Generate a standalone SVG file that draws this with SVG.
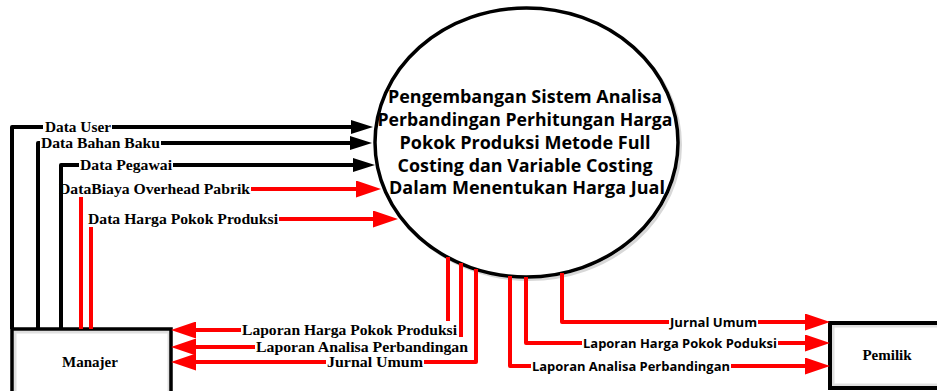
<svg xmlns="http://www.w3.org/2000/svg" width="937" height="391" viewBox="0 0 937 391">
<style>
.bk{fill:none;stroke:#000;stroke-width:4;stroke-linejoin:round}
.rd{fill:none;stroke:#ff0000;stroke-width:4;stroke-linejoin:round}
.lab{font-family:"Liberation Serif","Times New Roman",serif;font-weight:bold;font-size:14px;fill:#000}
.labs{font-family:"Open Sans","Liberation Sans",Arial,sans-serif;font-weight:bold;font-size:13px;fill:#000}
.ptxt{font-family:"Open Sans","Liberation Sans",Arial,sans-serif;font-weight:bold;font-size:17px;fill:#000}
.ent{font-family:"Liberation Serif","Times New Roman",serif;font-weight:bold;font-size:15px;fill:#000}
</style>
<defs>
<marker id="ab" markerUnits="userSpaceOnUse" markerWidth="22" markerHeight="14" refX="0" refY="7" orient="auto"><path d="M0,0 L22,7 L0,14 z" fill="#000"/></marker>
<marker id="ar" markerUnits="userSpaceOnUse" markerWidth="25" markerHeight="17" refX="0" refY="8.5" orient="auto"><path d="M0,0 L25,8.5 L0,17 z" fill="#ff0000"/></marker>
</defs>
<rect width="937" height="391" fill="#fff"/>

<g id="process">
<ellipse cx="529" cy="145" rx="151.5" ry="134.5" fill="none" stroke="#d8d8d8" stroke-width="3"/>
<ellipse cx="526.5" cy="142.5" rx="151.5" ry="134.5" fill="#fff" stroke="#000" stroke-width="3.5"/>
<text class="ptxt" x="525" y="103" text-anchor="middle" textLength="274" lengthAdjust="spacingAndGlyphs">Pengembangan Sistem Analisa</text>
<text class="ptxt" x="525" y="126" text-anchor="middle" textLength="295" lengthAdjust="spacingAndGlyphs">Perbandingan Perhitungan Harga</text>
<text class="ptxt" x="525" y="149" text-anchor="middle" textLength="251" lengthAdjust="spacingAndGlyphs">Pokok Produksi Metode Full</text>
<text class="ptxt" x="525" y="172" text-anchor="middle" textLength="255" lengthAdjust="spacingAndGlyphs">Costing dan Variable Costing</text>
<text class="ptxt" x="527" y="194" text-anchor="middle" textLength="276" lengthAdjust="spacingAndGlyphs">Dalam Menentukan Harga Jual</text>
</g>

<g id="manajer">
<rect x="15" y="332" width="154" height="70" fill="none" stroke="#e0e0e0" stroke-width="3"/>
<rect x="12" y="329" width="159" height="70" fill="none" stroke="#000" stroke-width="3.5"/>
<text class="ent" x="90" y="367" text-anchor="middle">Manajer</text>
</g>

<g id="pemilik">
<rect x="833" y="326" width="110" height="59" fill="none" stroke="#e0e0e0" stroke-width="3"/>
<rect x="830" y="323" width="115" height="65" fill="none" stroke="#000" stroke-width="4"/>
<text class="ent" x="887" y="360" text-anchor="middle">Pemilik</text>
</g>

<g id="connectors">
<g id="c-data-user">
<path class="bk" d="M12,329 V127 H43"/>
<path class="bk" d="M112,127 H351" marker-end="url(#ab)"/>
<text class="lab" x="45" y="132" textLength="66" lengthAdjust="spacingAndGlyphs">Data User</text>
</g>
<g id="c-data-bahan-baku">
<path class="bk" d="M38,329 V143 H40"/>
<path class="bk" d="M161,143 H350" marker-end="url(#ab)"/>
<text class="lab" x="41" y="148" textLength="119" lengthAdjust="spacingAndGlyphs">Data Bahan Baku</text>
</g>
<g id="c-data-pegawai">
<path class="bk" d="M61,329 V165 H79"/>
<path class="bk" d="M173,165 H353" marker-end="url(#ab)"/>
<text class="lab" x="80" y="170" textLength="92" lengthAdjust="spacingAndGlyphs">Data Pegawai</text>
</g>
<g id="c-data-biaya">
<path class="rd" d="M81,197 V329"/>
<path class="rd" d="M251,189 H356" marker-end="url(#ar)"/>
<text class="lab" x="59" y="194" textLength="191" lengthAdjust="spacingAndGlyphs">DataBiaya Overhead Pabrik</text>
</g>
<g id="c-data-hpp">
<path class="rd" d="M91,227 V329"/>
<path class="rd" d="M279,219 H373" marker-end="url(#ar)"/>
<text class="lab" x="88" y="224" textLength="190" lengthAdjust="spacingAndGlyphs">Data Harga Pokok Produksi</text>
</g>

<g id="c-lap-hpp-manajer">
<path class="rd" d="M448,257 V321"/>
<path class="rd" d="M241,330 H196" marker-end="url(#ar)"/>
<text class="lab" x="242" y="335" textLength="215" lengthAdjust="spacingAndGlyphs">Laporan Harga Pokok Produksi</text>
</g>
<g id="c-lap-analisa-manajer">
<path class="rd" d="M461,263 V337"/>
<path class="rd" d="M255,347 H196" marker-end="url(#ar)"/>
<text class="lab" x="256" y="352" textLength="212" lengthAdjust="spacingAndGlyphs">Laporan Analisa Perbandingan</text>
</g>
<g id="c-jurnal-manajer">
<path class="rd" d="M476,269 V362 H424"/>
<path class="rd" d="M326,362 H196" marker-end="url(#ar)"/>
<text class="lab" x="327" y="367" textLength="96" lengthAdjust="spacingAndGlyphs">Jurnal Umum</text>
</g>

<g id="c-jurnal-pemilik">
<path class="rd" d="M562,273 V322 H669"/>
<path class="rd" d="M758,322 H805" marker-end="url(#ar)"/>
<text class="labs" x="670" y="327" textLength="87" lengthAdjust="spacingAndGlyphs">Jurnal Umum</text>
</g>
<g id="c-lap-hpp-pemilik">
<path class="rd" d="M526,277 V343 H582"/>
<path class="rd" d="M778,343 H805" marker-end="url(#ar)"/>
<text class="labs" x="583" y="348" textLength="194" lengthAdjust="spacingAndGlyphs">Laporan Harga Pokok Poduksi</text>
</g>
<g id="c-lap-analisa-pemilik">
<path class="rd" d="M510,276 V366 H531"/>
<path class="rd" d="M731,366 H805" marker-end="url(#ar)"/>
<text class="labs" x="532" y="371" textLength="198" lengthAdjust="spacingAndGlyphs">Laporan Analisa Perbandingan</text>
</g>
</g>
</svg>
